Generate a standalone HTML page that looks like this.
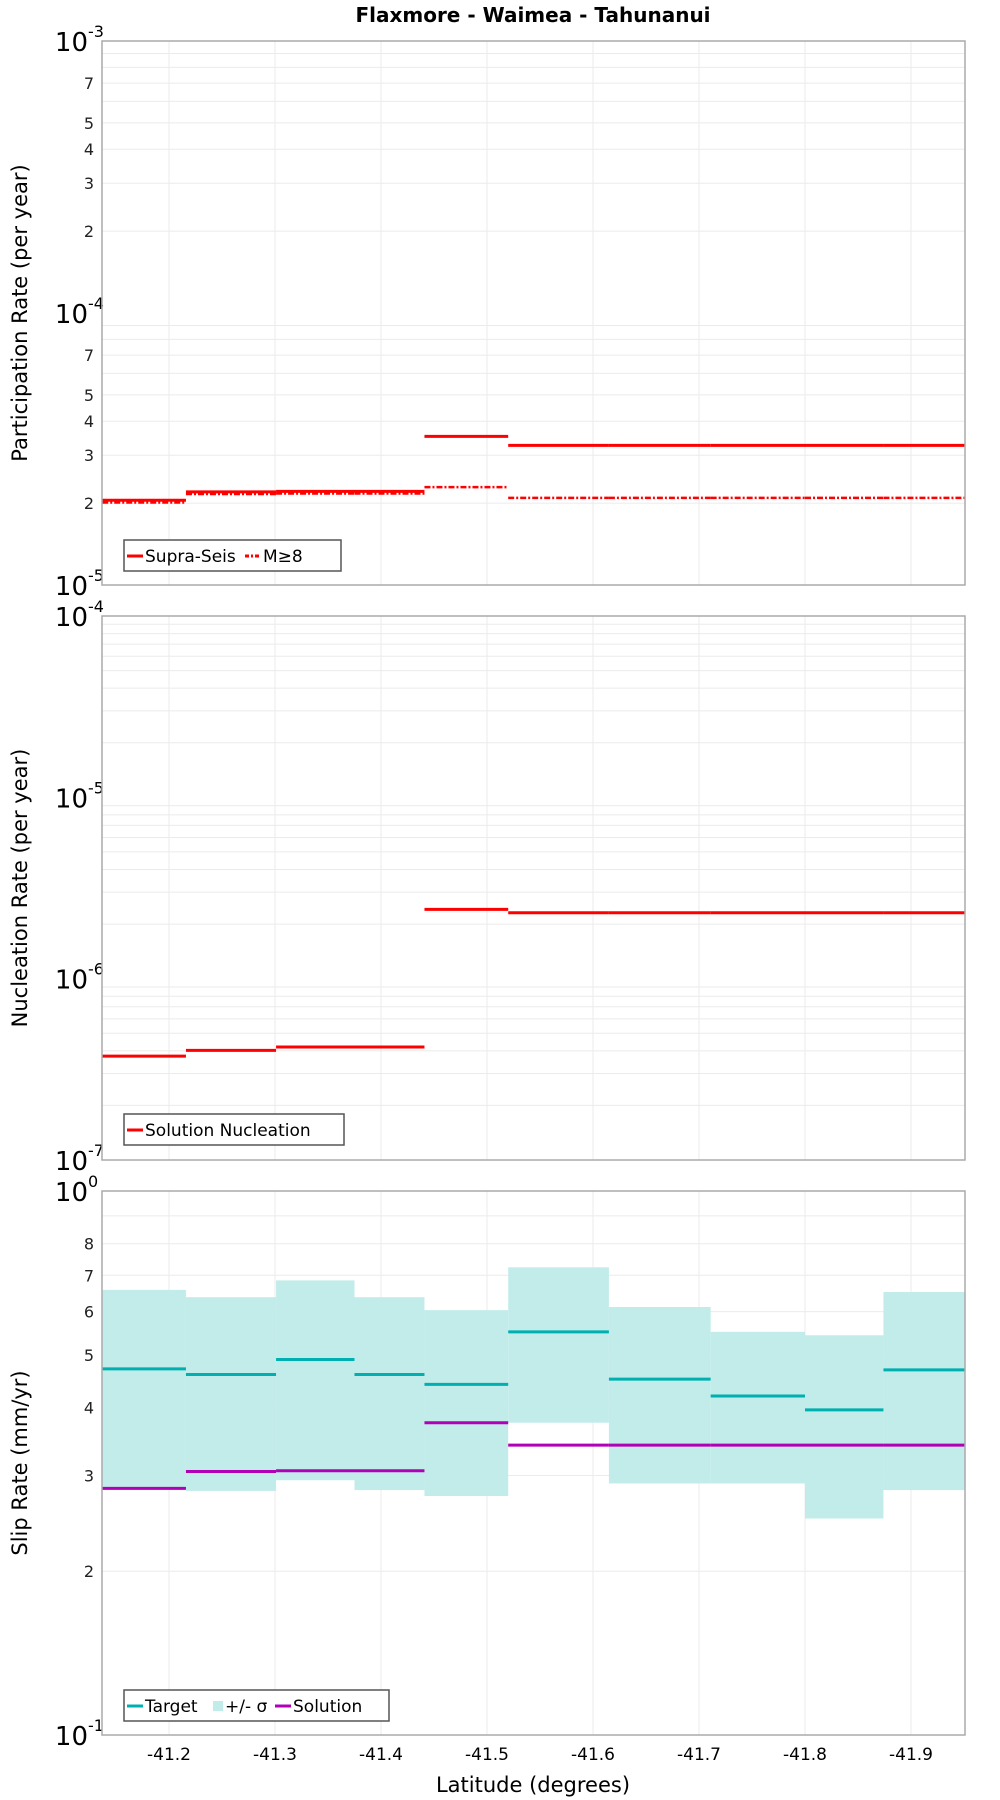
<!DOCTYPE html>
<html><head><meta charset="utf-8"><style>
body{margin:0;background:#fff;}
svg{display:block;font-family:"DejaVu Sans","Liberation Sans",sans-serif;}
</style></head><body>
<svg id="c" width="1000" height="1800" viewBox="0 0 1000 1800">
<text x="533" y="22" text-anchor="middle" font-size="20" font-weight="bold">Flaxmore - Waimea - Tahunanui</text>
</svg>
<script>
const binEdges=[-41.137,-41.216,-41.301,-41.375,-41.441,-41.520,-41.615,-41.711,-41.800,-41.874,-41.951];
const xTicks=[-41.2,-41.3,-41.4,-41.5,-41.6,-41.7,-41.8,-41.9];
const supraSeis=[2.05e-5,2.20e-5,2.21e-5,2.21e-5,3.52e-5,3.26e-5,3.26e-5,3.26e-5,3.26e-5,3.26e-5];
const mGe8=[2.01e-5,2.16e-5,2.17e-5,2.17e-5,2.29e-5,2.09e-5,2.09e-5,2.09e-5,2.09e-5,2.09e-5];
const nucleation=[3.74e-7,4.02e-7,4.20e-7,4.20e-7,2.41e-6,2.31e-6,2.31e-6,2.31e-6,2.31e-6,2.31e-6];
const slipTarget=[4.71,4.60,4.90,4.60,4.41,5.51,4.51,4.20,3.96,4.69];
const sigmaHigh=[6.58,6.38,6.85,6.38,6.04,7.24,6.12,5.51,5.43,6.52];
const sigmaLow=[2.83,2.81,2.94,2.82,2.75,3.75,2.90,2.90,2.50,2.82];
const slipSolution=[2.84,3.05,3.06,3.06,3.75,3.41,3.41,3.41,3.41,3.41];

const svg=document.getElementById('c');
const NS='http://www.w3.org/2000/svg';
const L=102,R=965;
function xs(lat){return 169+(-41.2-lat)*1060;}
function mk(tag,attrs,parent){const e=document.createElementNS(NS,tag);for(const k in attrs)e.setAttribute(k,attrs[k]);(parent||svg).appendChild(e);return e;}

function panel(name,top,bot,minExp,maxExp,labelMinor,decLabelFn,ytitle){
  const g=mk('g',{});
  
  
  const ys=v=>bot-(Math.log10(v)-minExp)/(maxExp-minExp)*(bot-top);
  // grid
  for(let e=minExp;e<maxExp;e++){
    for(let m=2;m<=9;m++){
      const v=m*Math.pow(10,e),y=ys(v);
      const ln=mk('line',{x1:L,x2:R,y1:y,y2:y,stroke:'#ebebeb','stroke-width':1},g);
      
      
      if(labelMinor.includes(m)){
        const t=mk('text',{x:L-8,y:y+6,'text-anchor':'end','font-size':16,fill:'#222'},g);
        
        
        t.textContent=m;
      }
    }
  }
  for(let e=minExp;e<=maxExp;e++){
    const y=ys(Math.pow(10,e));
    const t=mk('text',{x:L-14,y:y+10,'text-anchor':'end','font-size':26,fill:'#000'},g);
    
    
    t.textContent='10';
    const s=mk('text',{x:L-14,y:y-4,'font-size':16,fill:'#000'},g);
    
    
    s.textContent=decLabelFn(e);
  }
  xTicks.forEach(v=>{
    const ln=mk('line',{x1:xs(v),x2:xs(v),y1:top,y2:bot,stroke:'#ebebeb','stroke-width':1},g);
    
    
  });
  const yt=mk('text',{transform:`translate(27,${(top+bot)/2}) rotate(-90)`,'text-anchor':'middle','font-size':21,fill:'#000'},g);
  
  
  yt.textContent=ytitle;
  return {g,ys};
}
function frame(g,top,bot){
  const r=mk('rect',{x:L,y:top,width:R-L,height:bot-top,fill:'none',stroke:'#aaa','stroke-width':1.5},g);
  
  
}
function steps(g,ys,vals,color,w,dash,name){
  vals.forEach((v,i)=>{
    const ln=mk('line',{x1:xs(binEdges[i]),x2:xs(binEdges[i+1]),y1:ys(v),y2:ys(v),stroke:color,'stroke-width':w},g);
    if(dash)ln.setAttribute('stroke-dasharray',dash);
    
    
  });
}
function legend(g,x,y,w,items){
  const b=mk('rect',{x:x,y:y,width:w,height:31,fill:'#fff',stroke:'#555','stroke-width':1.5},g);
  
  
  let cx=x+3;
  items.forEach(it=>{
    if(it.box){const r=mk('rect',{x:cx,y:y+11,width:10,height:10,fill:it.color},g);cx+=12;}
    else{const l=mk('line',{x1:cx,x2:cx+16,y1:y+16,y2:y+16,stroke:it.color,'stroke-width':3},g);if(it.dash)l.setAttribute('stroke-dasharray',it.dash);cx+=18;}
    const t=mk('text',{x:cx,y:y+22,'font-size':17,fill:'#000'},g);
    
    
    t.textContent=it.label;
    cx+=it.w;
  });
}
// Panel 1
let p=panel('participation',41,585,-5,-3,[2,3,4,5,7],e=>String(e),'Participation Rate (per year)');
steps(p.g,p.ys,supraSeis,'#f00',3,null,'supra-seis-step');
steps(p.g,p.ys,mGe8,'#f00',2.5,'6,2,2,2','m-ge-8-step');
frame(p.g,41,585);
legend(p.g,124,540,217,[{color:'#f00',label:'Supra-Seis',w:100},{color:'#f00',dash:'4,2,2,2',label:'M≥8',w:50}]);
// Panel 2
p=panel('nucleation',616,1160,-7,-4,[],e=>String(e),'Nucleation Rate (per year)');
steps(p.g,p.ys,nucleation,'#f00',3,null,'nucleation-step');
frame(p.g,616,1160);
legend(p.g,124,1114,220,[{color:'#f00',label:'Solution Nucleation',w:200}]);
// Panel 3
p=panel('slip',1191,1735,0,1,[2,3,4,5,6,7,8],e=>String(e-1),'Slip Rate (mm/yr)');
sigmaHigh.forEach((v,i)=>{
  const r=mk('rect',{x:xs(binEdges[i]),y:p.ys(v),width:xs(binEdges[i+1])-xs(binEdges[i]),height:p.ys(sigmaLow[i])-p.ys(v),fill:'#c2ecea'},p.g);
  
  
});
steps(p.g,p.ys,slipTarget,'#00b0b0',3,null,'target-step');
steps(p.g,p.ys,slipSolution,'#b000b8',3,null,'solution-step');
frame(p.g,1191,1735);
legend(p.g,124,1690,265,[{color:'#00b0b0',label:'Target',w:68},{color:'#c2ecea',box:true,label:'+/- σ',w:50},{color:'#b000b8',label:'Solution',w:90}]);
// x ticks
xTicks.forEach(v=>{
  const t=mk('text',{x:xs(v),y:1760,'text-anchor':'middle','font-size':17,fill:'#000'});
  
  
  t.textContent=v.toFixed(1);
});
const xt=mk('text',{x:533,y:1792,'text-anchor':'middle','font-size':21,fill:'#000'});


xt.textContent='Latitude (degrees)';
</script>
</body></html>
